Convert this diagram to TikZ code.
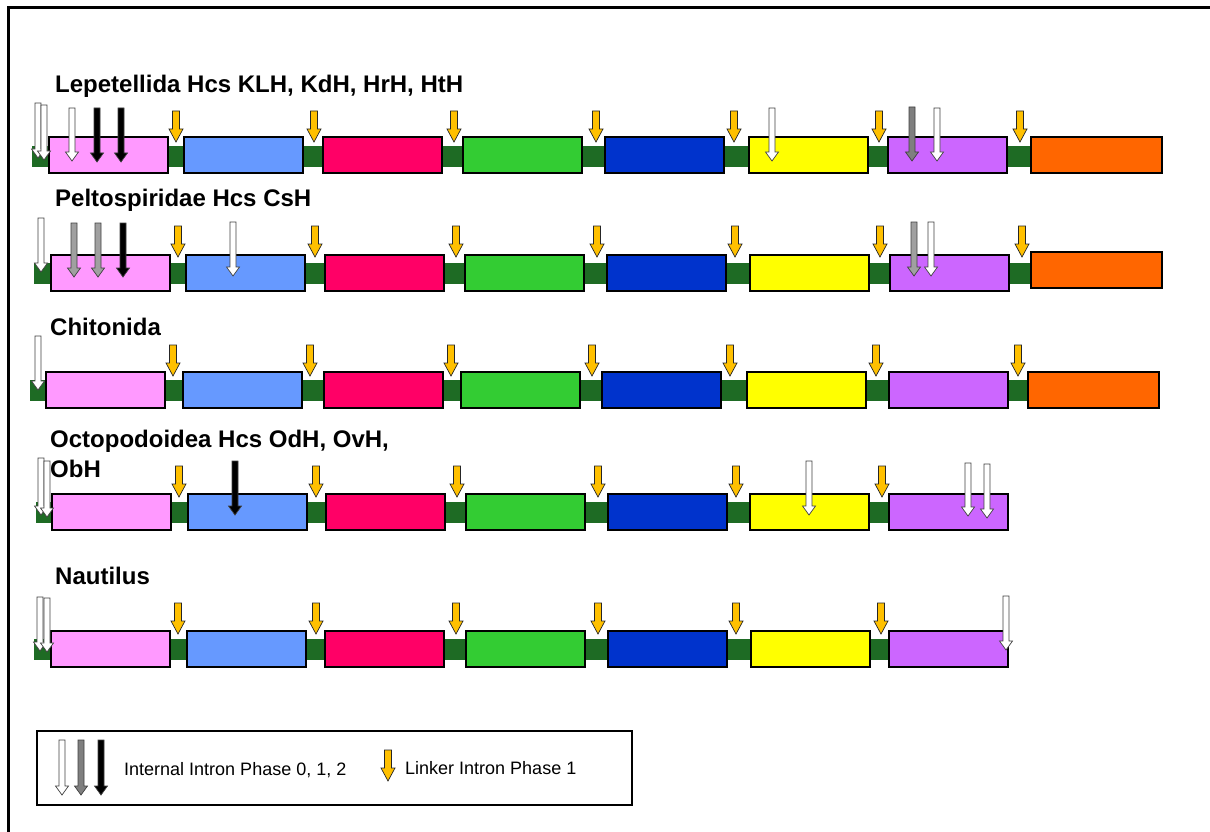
\documentclass[tikz,border=0pt]{standalone}
\usepackage{fontspec}
\setmainfont{Liberation Sans}
\usetikzlibrary{positioning}

\definecolor{dpink}{HTML}{FF99FF}
\definecolor{dblue}{HTML}{6699FF}
\definecolor{dred}{HTML}{FF0066}
\definecolor{dgreen}{HTML}{33CC33}
\definecolor{dnavy}{HTML}{0033CC}
\definecolor{dyellow}{HTML}{FFFF00}
\definecolor{dviolet}{HTML}{CC66FF}
\definecolor{dorange}{HTML}{FF6600}
\definecolor{linkgreen}{HTML}{1E6B24}
\definecolor{linkgold}{HTML}{FFC000}
\definecolor{phone}{HTML}{7F7F7F}
\definecolor{phonel}{HTML}{A0A0A0}

\tikzset{
  dom/.style={draw=black,line width=1.3pt},
  title/.style={font=\fontsize{24}{30}\selectfont\bfseries,inner sep=0pt,anchor=base west},
  legtext/.style={font=\fontsize{18}{20}\selectfont,inner sep=0pt,anchor=west}
}

% internal intron: x, top, bottom, fill
\newcommand{\intron}[4]{%
  \filldraw[fill=#4,draw=black!75,line width=0.7pt]
    (#1-3,#2) -- (#1+3,#2) -- (#1+3,#3-9) -- (#1+6.5,#3-9) -- (#1,#3)
    -- (#1-6.5,#3-9) -- (#1-3,#3-9) -- cycle;}
% linker intron: x, top
\newcommand{\linker}[2]{%
  \filldraw[fill=linkgold,draw=black!85,line width=0.7pt]
    (#1-3.5,#2) -- (#1+3.5,#2) -- (#1+3.5,#2+18) -- (#1+7,#2+18) -- (#1,#2+31)
    -- (#1-7,#2+18) -- (#1-3.5,#2+18) -- cycle;}

\begin{document}
\begin{tikzpicture}[x=1pt,y=-1pt]
\useasboundingbox (0,0) rectangle (1210,832);
%Khung
\draw[line width=3pt] (8.5,832) -- (8.5,7.5) -- (1210,7.5);

%Hang 1
\node[title] (tLep) at (55,93) {Lepetellida Hcs KLH, KdH, HrH, HtH};
\fill[linkgreen] (32,146) rectangle (1035,167);
\foreach \x/\c in {49/dpink,184/dblue,323/dred,463/dgreen,605/dnavy,749/dyellow,888/dviolet}
  \filldraw[dom,fill=\c] (\x,137) rectangle ++(119,36);
\filldraw[dom,fill=dorange] (1031,137) rectangle ++(131,36);
\foreach \x in {176,314,454,596,734,879,1020} \linker{\x}{111};
\intron{38}{103}{158}{white}
\intron{44}{105}{160}{white}
\intron{72}{108}{161}{white}
\intron{97}{108}{162}{black}
\intron{121}{108}{162}{black}
\intron{772}{108}{161}{white}
\intron{912}{107}{161}{phone}
\intron{937}{108}{161}{white}

%Hang 2
\node[title] (tPel) at (55,206) {Peltospiridae Hcs CsH};
\fill[linkgreen] (34,263) rectangle (1035,284);
\foreach \x/\c in {51/dpink,186/dblue,325/dred,465/dgreen,607/dnavy,750/dyellow,890/dviolet}
  \filldraw[dom,fill=\c] (\x,255) rectangle ++(119,36);
\filldraw[dom,fill=dorange] (1031,252) rectangle ++(131,36);
\foreach \x in {178,315,456,597,735,880,1022} \linker{\x}{226};
\intron{41}{218}{272}{white}
\intron{74}{223}{277}{phonel}
\intron{98}{223}{277}{phonel}
\intron{123}{223}{277}{black}
\intron{233}{222}{276}{white}
\intron{914}{222}{276}{phonel}
\intron{931}{222}{276}{white}

%Hang 3
\node[title] (tChi) at (50,335) {Chitonida};
\fill[linkgreen] (30,380) rectangle (1030,401);
\foreach \x/\c in {46/dpink,183/dblue,324/dred,461/dgreen,602/dnavy,747/dyellow,889/dviolet}
  \filldraw[dom,fill=\c] (\x,372) rectangle ++(119,36);
\filldraw[dom,fill=dorange] (1028,372) rectangle ++(131,36);
\foreach \x in {173,310,451,592,730,876,1018} \linker{\x}{345};
\intron{38}{336}{390}{white}

%Hang 4
\node[title,anchor=north west,align=left] (tOct) at (50,429.5) {Octopodoidea Hcs OdH, OvH,\\ObH};
\fill[linkgreen] (36,502) rectangle (893,523);
\foreach \x/\c in {52/dpink,188/dblue,326/dred,466/dgreen,608/dnavy,750/dyellow,889/dviolet}
  \filldraw[dom,fill=\c] (\x,494) rectangle ++(119,36);
\foreach \x in {179,316,457,598,736,882} \linker{\x}{466};
\intron{41}{458}{515}{white}
\intron{47}{461}{517}{white}
\intron{235}{461}{515}{black}
\intron{809}{461}{515}{white}
\intron{968}{463}{516}{white}
\intron{987}{464}{518}{white}

%Hang 5
\node[title] (tNau) at (55,584) {Nautilus};
\fill[linkgreen] (34,639) rectangle (893,660);
\foreach \x/\c in {51/dpink,187/dblue,325/dred,466/dgreen,608/dnavy,751/dyellow,889/dviolet}
  \filldraw[dom,fill=\c] (\x,631) rectangle ++(119,36);
\foreach \x in {178,316,456,598,736,881} \linker{\x}{603};
\intron{40}{597}{651}{white}
\intron{47}{598}{652}{white}
\intron{1006}{596}{650}{white}

%Chu thich
\draw[line width=2.5pt] (37,731) rectangle (632,805);
\intron{62}{740}{795}{white}
\intron{81}{740}{795}{phone}
\intron{101}{740}{795}{black}
\node[legtext] (lInt) at (124,770) {Internal Intron Phase 0, 1, 2};
\linker{388}{750}
\node[legtext] (lLink) at (405,768) {Linker Intron Phase 1};
\end{tikzpicture}
\end{document}
